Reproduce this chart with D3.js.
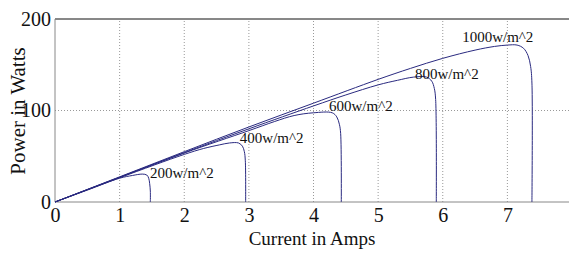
<!DOCTYPE html>
<html>
<head>
<meta charset="utf-8">
<script src="https://cdn.jsdelivr.net/npm/d3@7"></script>
<style>
	body { margin: 0; background: #fff; }
	text { font-family: "Liberation Serif", "Times New Roman", serif; fill: #111; }
	.grid line { stroke: #999; stroke-dasharray: 1,2; }
</style>
</head>
<body>
<svg id="chart" width="569" height="254"></svg>
<script>
// irradiance labels
let labels = ["200w/m^2", "400w/m^2", "600w/m^2", "800w/m^2", "1000w/m^2"];

// current (A) / power (W), one pair of arrays per curve
let current200 = [0, 0.5, 1, 1.2, 1.35, 1.42, 1.45, 1.465, 1.475, 1.475];
let power200 = [0, 13, 26, 29, 30.5, 29.5, 26, 20, 12, 0];

let current400 = [0, 1, 2, 2.3, 2.55, 2.7, 2.84, 2.9, 2.93, 2.945, 2.95];
let power400 = [0, 26.5, 52, 58.5, 62.5, 64.5, 64.5, 61, 55, 45, 0];

let current600 = [0, 1, 2, 3, 3.4, 3.7, 4.0, 4.29, 4.36, 4.4, 4.42, 4.43];
let power600 = [0, 27, 53.5, 78, 88, 94.5, 97.5, 97.5, 93, 85, 75, 0];

let current800 = [0, 1, 2, 3, 4, 4.5, 5, 5.3, 5.55, 5.75, 5.83, 5.87, 5.89, 5.9];
let power800 = [0, 27, 54, 80, 105, 117, 128, 133, 136.5, 136.5, 132, 124, 112, 0];

let current1000 = [0, 1, 2, 3, 4, 5, 5.5, 6, 6.5, 6.8, 7.0, 7.15, 7.25, 7.32, 7.36, 7.38, 7.38];
let power1000 = [0, 27.5, 55, 82, 108, 134, 146, 157, 166, 170, 171.5, 171.5, 168, 160, 148, 130, 0];

// where each label sits, in current / power units
let labelCurrent = [1.47, 2.86, 4.24, 5.57, 6.3];
let labelPower = [26, 64, 100, 134, 175];

let xTicks = [0, 1, 2, 3, 4, 5, 6, 7];
let yTicks = [0, 100, 200];

const start = function() {
	let svg = d3.select("#chart");

	let x = d3.scaleLinear().domain([0, 8]).range([55, 572]);
	let y = d3.scaleLinear().domain([0, 200]).range([202, 19]);

	// dotted grid
	let grid = svg.append("g").attr("class", "grid");
	grid.selectAll(".gx")
		.data(xTicks.slice(1))
		.enter()
		.append("line")
		.attr("x1", d => x(d)).attr("x2", d => x(d))
		.attr("y1", y(0)).attr("y2", y(200));
	grid.append("line")
		.attr("x1", x(0)).attr("x2", x(8))
		.attr("y1", y(100)).attr("y2", y(100));

	// frame
	svg.append("line")
		.attr("x1", x(0)).attr("x2", x(8))
		.attr("y1", y(200)).attr("y2", y(200))
		.attr("stroke", "#111");
	svg.append("line")
		.attr("x1", x(0)).attr("x2", x(8))
		.attr("y1", y(0)).attr("y2", y(0))
		.attr("stroke", "#888");
	svg.append("line")
		.attr("x1", x(0)).attr("x2", x(0))
		.attr("y1", y(0)).attr("y2", y(200))
		.attr("stroke", "#888");

	// axes
	let xAxis = svg.append("g")
		.attr("transform", "translate(0," + y(0) + ")")
		.call(d3.axisBottom(x).tickValues(xTicks).tickSize(0).tickPadding(6).tickFormat(d3.format("d")));
	xAxis.select(".domain").remove();
	xAxis.selectAll("text").attr("font-size", "20px").attr("fill", "#111");

	let yAxis = svg.append("g")
		.attr("transform", "translate(" + x(0) + ",0)")
		.call(d3.axisLeft(y).tickValues(yTicks).tickSize(0).tickPadding(4));
	yAxis.select(".domain").remove();
	yAxis.selectAll("text").attr("font-size", "20px").attr("fill", "#111");

	// curves
	let curves = [
		[current200, power200],
		[current400, power400],
		[current600, power600],
		[current800, power800],
		[current1000, power1000]
	];

	let line = d3.line()
		.x(d => x(d[0]))
		.y(d => y(d[1]))
		.curve(d3.curveCatmullRom.alpha(0.5));

	svg.selectAll(".curve")
		.data(curves)
		.enter()
		.append("path")
		.attr("class", "curve")
		.attr("fill", "none")
		.attr("stroke", "#2a2a80")
		.attr("stroke-width", 1)
		.attr("d", function(c) {
			return line(c[0].map((v, i) => [v, c[1][i]]));
		});

	// irradiance labels
	svg.selectAll(".lbl")
		.data(labels)
		.enter()
		.append("text")
		.attr("class", "lbl")
		.attr("x", (d, i) => x(labelCurrent[i]))
		.attr("y", (d, i) => y(labelPower[i]))
		.attr("font-size", "15px")
		.text(d => d);

	// axis titles
	svg.append("text")
		.attr("x", 312)
		.attr("y", 245)
		.attr("text-anchor", "middle")
		.attr("font-size", "19px")
		.text("Current in Amps");

	svg.append("text")
		.attr("transform", "translate(25,111) rotate(-90)")
		.attr("text-anchor", "middle")
		.attr("font-size", "21px")
		.text("Power in Watts");
}

start();
</script>
</body>
</html>
